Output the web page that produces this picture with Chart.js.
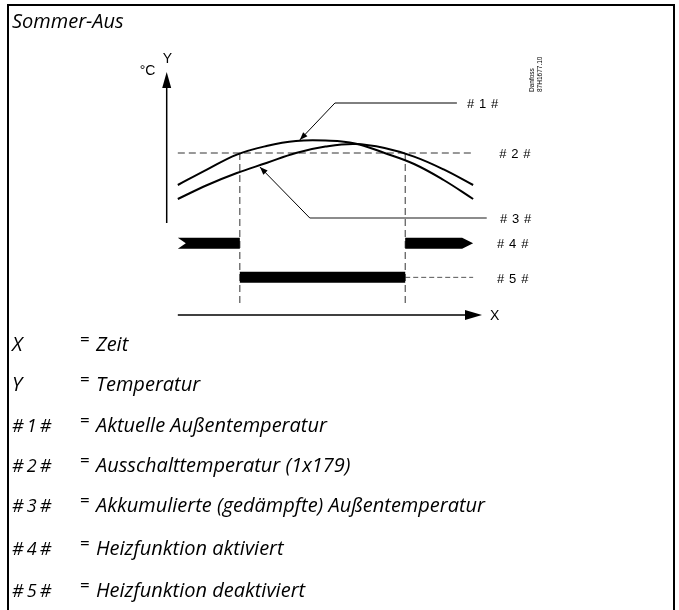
<!DOCTYPE html>
<html><head><meta charset="utf-8">
<script src="https://cdn.jsdelivr.net/npm/chart.js@4/dist/chart.umd.min.js"></script>
<style>
html,body{margin:0;padding:0;background:#fff;}
#wrap{position:relative;width:679px;height:610px;overflow:hidden;}
#frame{position:absolute;left:7px;top:4px;width:664px;height:640px;border:2px solid #000;border-bottom:none;}
canvas{position:absolute;left:0;top:0;}
</style></head><body>
<div id="wrap"><div id="frame"></div><canvas id="c" width="679" height="610"></canvas></div>
<script>
// ---- data ----
const title = 'Sommer-Aus';
const timeSteps = [0, 1, 2, 3, 4, 5, 6, 7, 8, 9, 10];
const actualTemp = [10.0, 13.9, 17.6, 19.75, 21.0, 21.1, 20.4, 18.0, 15.25, 11.25, 6.5];
const accumulatedTemp = [6.5, 10.0, 13.0, 15.5, 18.0, 19.6, 20.25, 19.25, 17.1, 13.9, 10.0];
const cutOffTemp = 18;
const switchTimes = [2.1, 7.7];          // heating off, heating on again
const timeRange = [0, 10];
const stateRows = [5, 6];                // row of "# 4 #" and "# 5 #"
const chartLabels = ['# 1 #', '# 2 #', '# 3 #', '# 4 #', '# 5 #'];
const axisLabels = ['X', 'Y', '°C'];
const keySymbols = ['X', 'Y', '# 1 #', '# 2 #', '# 3 #', '# 4 #', '# 5 #'];
const keyTexts = ['Zeit', 'Temperatur', 'Aktuelle Außentemperatur', 'Ausschalttemperatur (1x179)',
  'Akkumulierte (gedämpfte) Außentemperatur', 'Heizfunktion aktiviert', 'Heizfunktion deaktiviert'];
const stamp = ['Danfoss', '87H1677.10'];

const pts = (xs, ys) => xs.map((x, i) => ({x, y: ys[i]}));

const datasets = [
  {data: pts(timeSteps, actualTemp), borderColor: '#000', borderWidth: 2, tension: 0.4, yAxisID: 'y'},
  {data: pts(timeSteps, accumulatedTemp), borderColor: '#000', borderWidth: 2, tension: 0.4, yAxisID: 'y'},
  {data: pts(timeRange, [cutOffTemp, cutOffTemp]), borderColor: '#333', borderWidth: 1, borderDash: [7, 4], yAxisID: 'y'},
  {data: pts([switchTimes[0], switchTimes[0]], [cutOffTemp, -20]), borderColor: '#333', borderWidth: 1, borderDash: [7, 4], yAxisID: 'y'},
  {data: pts([switchTimes[1], switchTimes[1]], [cutOffTemp, -20]), borderColor: '#333', borderWidth: 1, borderDash: [7, 4], yAxisID: 'y'},
  {data: pts([timeRange[0], switchTimes[0]], [stateRows[0], stateRows[0]]), borderWidth: 0, yAxisID: 'yState', barShape: 'tail'},
  {data: pts([switchTimes[1], timeRange[1]], [stateRows[0], stateRows[0]]), borderWidth: 0, yAxisID: 'yState', barShape: 'head'},
  {data: pts([switchTimes[0], switchTimes[1]], [stateRows[1], stateRows[1]]), borderWidth: 0, yAxisID: 'yState', barShape: 'plain'},
  {data: pts([switchTimes[1], timeRange[1]], [stateRows[1], stateRows[1]]), borderColor: '#555', borderWidth: 1, borderDash: [5, 3], yAxisID: 'yState'}
];

function arrowHead(ctx, x1, y1, x2, y2, len, half) {
  const a = Math.atan2(y2 - y1, x2 - x1);
  ctx.beginPath();
  ctx.moveTo(x2, y2);
  ctx.lineTo(x2 - len * Math.cos(a) + half * Math.sin(a), y2 - len * Math.sin(a) - half * Math.cos(a));
  ctx.lineTo(x2 - len * Math.cos(a) - half * Math.sin(a), y2 - len * Math.sin(a) + half * Math.cos(a));
  ctx.closePath();
  ctx.fill();
}

const annot = {
  id: 'annot',
  afterDatasetsDraw(chart) {
    const ctx = chart.ctx, xs = chart.scales.x, ys = chart.scales.y, ss = chart.scales.yState;
    const ca = chart.chartArea;
    const X = t => xs.getPixelForValue(t), Y = v => ys.getPixelForValue(v), S = v => ss.getPixelForValue(v);
    ctx.save();
    ctx.fillStyle = '#000'; ctx.strokeStyle = '#000';
    // state bars
    chart.data.datasets.forEach((ds, i) => {
      if (!ds.barShape) return;
      const m = chart.getDatasetMeta(i).data;
      const x0 = m[0].x, x1 = m[1].x, y = m[0].y, h = 5.5;
      ctx.beginPath();
      ctx.moveTo(x0, y - h);
      if (ds.barShape === 'head') { ctx.lineTo(x1 - 11, y - h); ctx.lineTo(x1, y); ctx.lineTo(x1 - 11, y + h); }
      else { ctx.lineTo(x1, y - h); ctx.lineTo(x1, y + h); }
      ctx.lineTo(x0, y + h);
      if (ds.barShape === 'tail') ctx.lineTo(x0 + 8, y);
      ctx.closePath(); ctx.fill();
    });
    // axes
    ctx.lineWidth = 1.5;
    const yAxX = ca.left + 0.7;
    ctx.beginPath(); ctx.moveTo(yAxX, Y(0.5)); ctx.lineTo(yAxX, ca.top + 10); ctx.stroke();
    arrowHead(ctx, yAxX, ca.top + 30, yAxX, ca.top, 16, 4.5);
    ctx.beginPath(); ctx.moveTo(X(0), ca.bottom); ctx.lineTo(ca.right - 10, ca.bottom); ctx.stroke();
    arrowHead(ctx, ca.right - 30, ca.bottom, ca.right, ca.bottom, 17, 5);
    // leader #1
    ctx.lineWidth = 1;
    ctx.beginPath(); ctx.moveTo(X(9.45), Y(30.5)); ctx.lineTo(X(5.32), Y(30.5)); ctx.lineTo(X(4.13), Y(21.25)); ctx.stroke();
    arrowHead(ctx, X(5.32), Y(30.5), X(4.13), Y(21.25), 8, 3);
    // leader #3
    ctx.strokeStyle = '#666'; ctx.lineWidth = 1.3;
    ctx.beginPath(); ctx.moveTo(X(10.46), Y(1.75)); ctx.lineTo(X(4.47), Y(1.75)); ctx.stroke();
    ctx.strokeStyle = '#000'; ctx.lineWidth = 1;
    ctx.beginPath(); ctx.moveTo(X(4.47), Y(1.75)); ctx.lineTo(X(2.78), Y(14.5)); ctx.stroke();
    arrowHead(ctx, X(4.47), Y(1.75), X(2.78), Y(14.5), 8, 3);
    // chart labels
    ctx.font = '13px "Liberation Sans", Arial, sans-serif';
    ctx.textBaseline = 'middle'; ctx.textAlign = 'left';
    try { ctx.letterSpacing = '0.6px'; } catch (e) {}
    ctx.fillText(chartLabels[0], X(9.79), Y(30.5) + 1);
    ctx.fillText(chartLabels[1], X(10.88), Y(cutOffTemp) + 1);
    ctx.fillText(chartLabels[2], X(10.91), Y(1.75) + 1);
    ctx.fillText(chartLabels[3], X(10.81), S(stateRows[0]) + 1);
    ctx.fillText(chartLabels[4], X(10.81), S(stateRows[1]) + 2);
    try { ctx.letterSpacing = '0px'; } catch (e) {}
    ctx.font = '14px "Liberation Sans", Arial, sans-serif';
    ctx.fillText(axisLabels[0], X(10.57), ca.bottom + 1);
    ctx.textBaseline = 'alphabetic';
    ctx.fillText(axisLabels[1], yAxX - 4, ca.top - 9);
    ctx.fillText(axisLabels[2], yAxX - 27, ca.top + 3);
    // stamp
    ctx.save();
    ctx.font = '6.5px "Liberation Sans", Arial, sans-serif';
    ctx.translate(534, 92); ctx.rotate(-Math.PI / 2);
    ctx.fillText(stamp[0], 0, 0);
    ctx.fillText(stamp[1], 0, 7.5);
    ctx.restore();
    // title and key
    ctx.font = 'italic 20px "Open Sans", sans-serif';
    ctx.fillText(title, 12, 28);
    const baselines = [351, 391, 432, 472, 512, 555, 597];
    keySymbols.forEach((s, i) => {
      if (s.length > 1) {
        ctx.font = 'italic 18px "Open Sans", sans-serif';
        try { ctx.letterSpacing = '-0.8px'; } catch (e) {}
      } else {
        ctx.font = 'italic 20px "Open Sans", sans-serif';
      }
      ctx.fillText(s, 12, baselines[i]);
      try { ctx.letterSpacing = '0px'; } catch (e) {}
      ctx.font = 'italic 20px "Open Sans", sans-serif';
      ctx.fillText(keyTexts[i], 96, baselines[i]);
      ctx.font = '17px "Open Sans", sans-serif';
      ctx.fillText('=', 80, baselines[i] - 6);
    });
    ctx.restore();
  }
};

new Chart(document.getElementById('c'), {
  type: 'line',
  data: {datasets},
  options: {
    responsive: false, animation: false, devicePixelRatio: 1,
    layout: {padding: {left: 166, right: 197, top: 72, bottom: 295}},
    scales: {
      x: {type: 'linear', min: -0.4, max: 10.3, display: false},
      y: {type: 'linear', min: -22.5, max: 38.25, display: false},
      yState: {type: 'linear', min: 0, max: 7.1, reverse: true, display: false}
    },
    elements: {point: {radius: 0}, line: {fill: false}},
    plugins: {legend: {display: false}, tooltip: {enabled: false}}
  },
  plugins: [annot]
});
</script>
</body></html>
